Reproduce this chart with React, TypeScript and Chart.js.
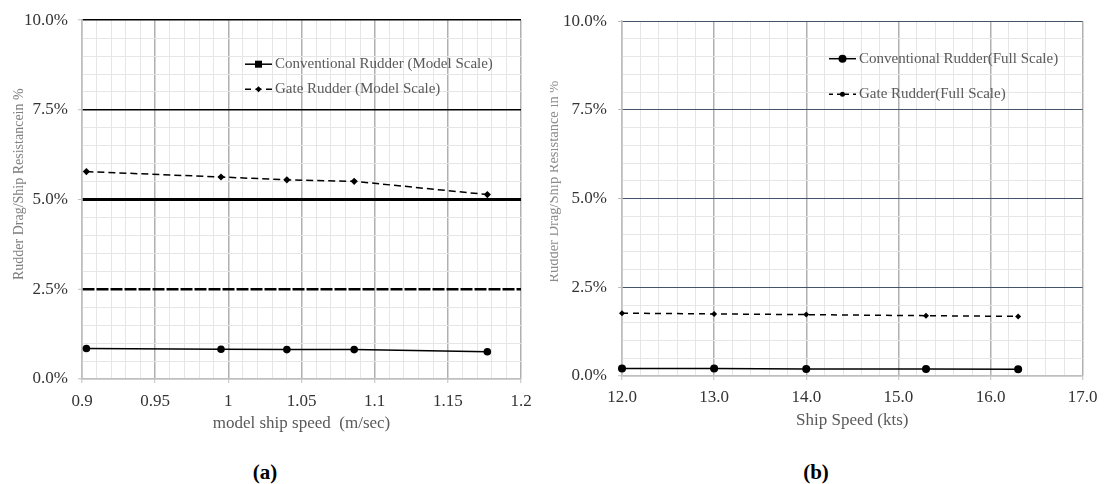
import React, { useEffect, useRef } from 'react';
import { Chart, registerables } from 'chart.js';

Chart.register(...registerables);

// ---------- data ----------
const modelSpeed = [0.903, 0.995, 1.04, 1.086, 1.177];
const modelConventional = [0.85, 0.83, 0.82, 0.82, 0.76];
const modelGate = [5.78, 5.63, 5.55, 5.51, 5.14];

const fullSpeed = [12.0, 13.0, 14.0, 15.3, 16.3];
const fullConventional = [0.21, 0.21, 0.2, 0.2, 0.19];
const fullGate = [1.77, 1.75, 1.73, 1.7, 1.68];

const modelLegend = ['Conventional Rudder (Model Scale)', 'Gate Rudder (Model Scale)'];
const fullLegend = ['Conventional Rudder(Full Scale)', 'Gate Rudder(Full Scale)'];

const yMajorTicks = [0, 2.5, 5, 7.5, 10];
const modelXTicks = [0.9, 0.95, 1, 1.05, 1.1, 1.15, 1.2];
const fullXTicks = [12, 13, 14, 15, 16, 17];

const modelXTitle = 'model ship speed  (m/sec)';
const fullXTitle = 'Ship Speed (kts)';
const modelYTitle = 'Rudder Drag/Ship Resistancein %';
const fullYTitle = 'Rudder Drag/Ship Resistance in %';

// ---------- styling ----------
const FAMILY = "'Liberation Serif', 'Times New Roman', serif";
const TICK_COLOR = '#333333';
const TITLE_COLOR = '#595959';
const MINOR = '#e6e6e6';
const VMAJOR = '#b0b0b0';
const AXIS = '#bfbfbf';

const isIn = (v: number, list: number[]) => list.some((t) => Math.abs(t - v) < 1e-6);

type Panel = {
  speed: number[];
  conv: number[];
  gate: number[];
  legend: string[];
  xTicks: number[];
  xMin: number;
  xMax: number;
  xStep: number;
  xFmt: (v: number) => string;
  xTitle: string;
  yTitle: string;
  padTop: number;
  padRight: number;
  xHeight: number;
  yWidth: number;
  xLabelPad: number;
  xTitlePad: number;
  yLabelPad: number;
  hColor: (v: number) => string;
  hWidth: (v: number) => number;
  hDash: (v: number) => number[];
  convRadius: number;
  gateRadius: number;
  gateDash: number[];
  legendX: number;
  legendRows: number[];
  legendMarkers: { style: string; r: number }[];
  legendDash: number[];
  yTitleX: number;
  yTitleDY: number;
  yTitleSize: number;
  yTitleColor: string;
};

function drawMarker(ctx: CanvasRenderingContext2D, style: string, x: number, y: number, r: number) {
  ctx.beginPath();
  if (style === 'rect') {
    ctx.rect(x - r, y - r, 2 * r, 2 * r);
  } else if (style === 'rectRot') {
    ctx.moveTo(x, y - r);
    ctx.lineTo(x + r, y);
    ctx.lineTo(x, y + r);
    ctx.lineTo(x - r, y);
    ctx.closePath();
  } else {
    ctx.arc(x, y, r, 0, Math.PI * 2);
  }
  ctx.fill();
}

function makePlugin(p: Panel) {
  return {
    id: 'panelDecor',
    afterDraw(chart: any) {
      const ctx: CanvasRenderingContext2D = chart.ctx;
      const a = chart.chartArea;
      // y-axis title
      ctx.save();
      ctx.translate(p.yTitleX, a.top + p.yTitleDY);
      ctx.rotate(-Math.PI / 2);
      ctx.font = `${p.yTitleSize}px ${FAMILY}`;
      ctx.fillStyle = p.yTitleColor;
      ctx.textAlign = 'center';
      ctx.textBaseline = 'middle';
      ctx.fillText(p.yTitle, 0, 0);
      ctx.restore();
      // legend
      p.legend.forEach((label, i) => {
        const x0 = a.left + p.legendX;
        const y = a.top + p.legendRows[i];
        const w = 27;
        ctx.save();
        ctx.strokeStyle = '#000';
        ctx.fillStyle = '#000';
        ctx.lineWidth = 1.5;
        ctx.setLineDash(i === 0 ? [] : p.legendDash);
        ctx.beginPath();
        ctx.moveTo(x0, y);
        ctx.lineTo(x0 + w, y);
        ctx.stroke();
        ctx.setLineDash([]);
        const m = p.legendMarkers[i];
        drawMarker(ctx, m.style, x0 + w / 2, y, m.r);
        ctx.font = `15px ${FAMILY}`;
        ctx.fillStyle = TITLE_COLOR;
        ctx.textAlign = 'left';
        ctx.textBaseline = 'middle';
        ctx.fillText(label, x0 + w + 3, y);
        ctx.restore();
      });
    },
  };
}

function buildChart(canvas: HTMLCanvasElement, p: Panel) {
  const font = { family: FAMILY, size: 17 };
  return new Chart(canvas, {
    type: 'line',
    data: {
      datasets: [
        {
          label: p.legend[0],
          data: p.speed.map((x, i) => ({ x, y: p.conv[i] })),
          borderColor: '#000',
          backgroundColor: '#000',
          borderWidth: 1.5,
          pointStyle: 'circle',
          pointRadius: p.convRadius,
          pointBorderWidth: 0,
          pointBackgroundColor: '#000',
          tension: 0,
          fill: false,
          clip: false as any,
        },
        {
          label: p.legend[1],
          data: p.speed.map((x, i) => ({ x, y: p.gate[i] })),
          borderColor: '#000',
          backgroundColor: '#000',
          borderWidth: 1.5,
          borderDash: p.gateDash,
          pointStyle: 'rectRot',
          pointRadius: p.gateRadius,
          pointBorderWidth: 0,
          pointBackgroundColor: '#000',
          tension: 0,
          fill: false,
          clip: false as any,
        },
      ],
    },
    options: {
      animation: false,
      responsive: false,
      maintainAspectRatio: false,
      events: [],
      layout: { padding: { left: 0, top: p.padTop, right: p.padRight, bottom: 0 } },
      plugins: { legend: { display: false }, tooltip: { enabled: false }, title: { display: false } },
      scales: {
        x: {
          type: 'linear',
          min: p.xMin,
          max: p.xMax,
          afterFit: (s: any) => {
            s.height = p.xHeight;
          },
          ticks: {
            stepSize: p.xStep,
            maxTicksLimit: 1000,
            autoSkip: false,
            maxRotation: 0,
            minRotation: 0,
            padding: p.xLabelPad,
            color: TICK_COLOR,
            font,
            callback: (v: any) => (isIn(Number(v), p.xTicks) ? p.xFmt(Number(v)) : ''),
          },
          grid: {
            color: (c: any) => (c.type === 'tick' && isIn(c.tick.value, p.xTicks) ? VMAJOR : MINOR),
            lineWidth: (c: any) => (c.type === 'tick' && isIn(c.tick.value, p.xTicks) ? 1.5 : 1),
            tickLength: 4,
            tickWidth: 1,
            tickColor: (c: any) => (c.type === 'tick' && isIn(c.tick.value, p.xTicks) ? AXIS : 'rgba(0,0,0,0)'),
          },
          border: { color: AXIS, width: 1.5 },
          title: {
            display: true,
            text: p.xTitle,
            color: TITLE_COLOR,
            font,
            padding: { top: 0, bottom: p.xTitlePad },
          },
        },
        y: {
          type: 'linear',
          min: 0,
          max: 10,
          afterFit: (s: any) => {
            s.width = p.yWidth;
          },
          ticks: {
            stepSize: 0.5,
            maxTicksLimit: 1000,
            autoSkip: false,
            padding: p.yLabelPad,
            color: TICK_COLOR,
            font,
            callback: (v: any) => (isIn(Number(v), yMajorTicks) ? Number(v).toFixed(1) + '%' : ''),
          },
          grid: {
            color: (c: any) => (c.type === 'tick' ? p.hColor(c.tick.value) : MINOR),
            lineWidth: (c: any) => (c.type === 'tick' ? p.hWidth(c.tick.value) : 1),
            tickLength: 4,
            tickWidth: 1,
            tickColor: (c: any) => (c.type === 'tick' && isIn(c.tick.value, yMajorTicks) ? AXIS : 'rgba(0,0,0,0)'),
          },
          border: {
            color: AXIS,
            width: 1.5,
            dash: (c: any) => (c.type === 'tick' ? p.hDash(c.tick.value) : []),
          },
        },
      },
    } as any,
    plugins: [makePlugin(p)],
  });
}

const modelPanel: Panel = {
  speed: modelSpeed,
  conv: modelConventional,
  gate: modelGate,
  legend: modelLegend,
  xTicks: modelXTicks,
  xMin: 0.9,
  xMax: 1.2,
  xStep: 0.01,
  xFmt: (v) => String(Number(v.toFixed(2))),
  xTitle: modelXTitle,
  yTitle: modelYTitle,
  padTop: 19,
  padRight: 24,
  xHeight: 61,
  yWidth: 82,
  xLabelPad: 8.5,
  xTitlePad: 6.5,
  yLabelPad: 10,
  hColor: (v) => (Math.abs(v) < 1e-6 ? AXIS : isIn(v, yMajorTicks) ? '#000' : MINOR),
  hWidth: (v) => (Math.abs(v) < 1e-6 ? 1.5 : Math.abs(v - 5) < 1e-6 ? 3 : Math.abs(v - 2.5) < 1e-6 ? 2.5 : isIn(v, yMajorTicks) ? 1.5 : 1),
  hDash: (v) => (Math.abs(v - 2.5) < 1e-6 ? [12, 2] : []),
  convRadius: 3.8,
  gateRadius: 3.6,
  gateDash: [7, 4],
  legendX: 163,
  legendRows: [44, 69],
  legendMarkers: [
    { style: 'rect', r: 3.5 },
    { style: 'rectRot', r: 3 },
  ],
  legendDash: [6, 4.5],
  yTitleX: 19,
  yTitleDY: 164,
  yTitleSize: 14,
  yTitleColor: '#7f7f7f',
};

const fullPanel: Panel = {
  speed: fullSpeed,
  conv: fullConventional,
  gate: fullGate,
  legend: fullLegend,
  xTicks: fullXTicks,
  xMin: 12,
  xMax: 17,
  xStep: 0.2,
  xFmt: (v) => v.toFixed(1),
  xTitle: fullXTitle,
  yTitle: fullYTitle,
  padTop: 20,
  padRight: 19,
  xHeight: 64,
  yWidth: 82,
  xLabelPad: 7.5,
  xTitlePad: 8.8,
  yLabelPad: 11,
  hColor: (v) => (Math.abs(v) < 1e-6 ? AXIS : isIn(v, yMajorTicks) ? '#44546a' : MINOR),
  hWidth: (v) => (Math.abs(v) < 1e-6 ? 1.5 : 1),
  hDash: () => [],
  convRadius: 4,
  gateRadius: 3,
  gateDash: [6, 5],
  legendX: 207,
  legendRows: [37.5, 73],
  legendMarkers: [
    { style: 'circle', r: 4 },
    { style: 'circle', r: 2.5 },
  ],
  legendDash: [4, 4],
  yTitleX: 14,
  yTitleDY: 160.5,
  yTitleSize: 14.5,
  yTitleColor: '#8c8c8c',
};

function ChartCanvas({ panel, width, height }: { panel: Panel; width: number; height: number }) {
  const ref = useRef<HTMLCanvasElement>(null);
  useEffect(() => {
    if (!ref.current) return;
    const chart = buildChart(ref.current, panel);
    return () => chart.destroy();
  }, [panel]);
  return <canvas ref={ref} width={width} height={height} style={{ width, height, display: 'block' }} />;
}

export default function App() {
  const label: React.CSSProperties = {
    position: 'absolute',
    transform: 'translate(-50%, -50%)',
    fontFamily: FAMILY,
    fontWeight: 'bold',
    fontSize: 21,
    color: '#000',
    whiteSpace: 'nowrap',
  };
  return (
    <div
      style={{
        position: 'fixed',
        left: 0,
        top: 0,
        width: 1105,
        height: 484,
        background: '#fff',
        overflow: 'hidden',
      }}
    >
      <div style={{ position: 'absolute', left: 0, top: 0, width: 545, height: 440 }}>
        <ChartCanvas panel={modelPanel} width={545} height={440} />
      </div>
      <div style={{ position: 'absolute', left: 550, top: 0, width: 555, height: 440, overflow: 'hidden' }}>
        <div style={{ position: 'absolute', left: -10, top: 0 }}>
          <ChartCanvas panel={fullPanel} width={565} height={440} />
        </div>
      </div>
      <div style={{ ...label, left: 265, top: 472 }}>(a)</div>
      <div style={{ ...label, left: 816, top: 472 }}>(b)</div>
    </div>
  );
}
